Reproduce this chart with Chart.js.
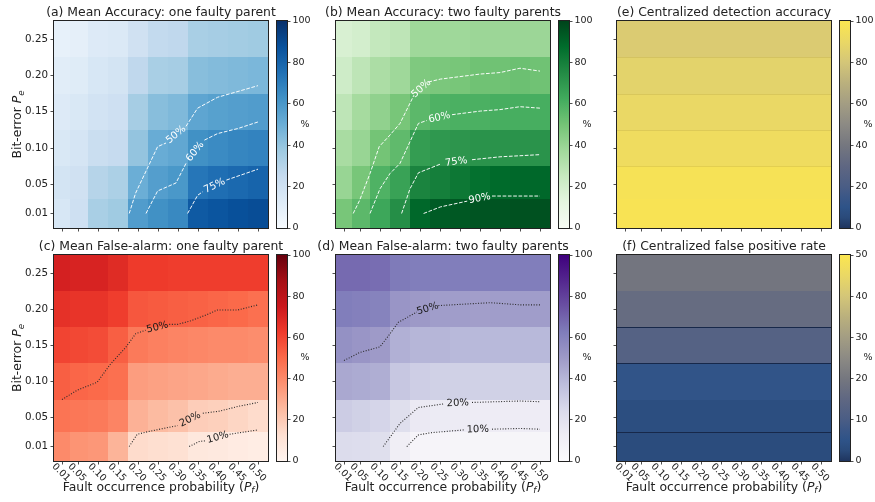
<!DOCTYPE html>
<html>
<head>
<meta charset="utf-8">
<title>Fault detection heatmaps</title>
<script src="https://cdn.jsdelivr.net/npm/chart.js@4.4.1/dist/chart.umd.min.js"></script>
<style>
  html, body { margin: 0; padding: 0; background: #fff; }
  #figure { position: relative; width: 875px; height: 502px; overflow: hidden; }
  #figure canvas { position: absolute; left: 0; top: 0; }
</style>
</head>
<body>
<div id="figure"></div>
<script>
// grid axes
const faultProb = [0.01, 0.05, 0.10, 0.15, 0.20, 0.25, 0.30, 0.35, 0.40, 0.45, 0.50];
const bitError = [0.01, 0.05, 0.10, 0.15, 0.20, 0.25];
const faultTicks = ['0.01', '0.05', '0.10', '0.15', '0.20', '0.25', '0.30', '0.35', '0.40', '0.45', '0.50'];
const bitTicks = ['0.01', '0.05', '0.10', '0.15', '0.20', '0.25'];
const pctTicks = [0, 20, 40, 60, 80, 100];
const fprTicks = [0, 10, 20, 30, 40, 50];

// values in %, one row per bit-error (0.01 first), one column per fault probability
const accOneParent = [
  [16, 21, 34, 37, 58, 63, 66, 84, 86, 88, 89],
  [18, 20, 30, 33, 50, 57, 60, 73, 76, 78, 80],
  [15, 17, 23, 25, 40, 51, 53, 63, 65, 67, 68],
  [13, 15, 19, 21, 35, 43, 45, 54, 56, 57, 58],
  [11, 12, 16, 18, 27, 34, 35, 43, 44, 45, 46],
  [8, 9, 13, 14, 20, 26, 27, 34, 35, 36, 37]
];
const accTwoParents = [
  [49, 56, 64, 74, 89, 93, 94, 95, 95, 96, 96],
  [40, 49, 59, 66, 78, 80, 83, 86, 88, 89, 89],
  [35, 40, 50, 55, 68, 70, 71, 72, 72, 72, 72],
  [28, 36, 42, 49, 56, 59, 60, 60, 61, 61, 61],
  [22, 28, 34, 38, 47, 48, 49, 51, 51, 52, 51],
  [18, 20, 26, 28, 38, 38, 38, 39, 39, 39, 39]
];
const centralAccuracy = [
  [98, 98, 98, 98, 98, 98, 98, 98, 98, 98, 98],
  [97, 97, 97, 97, 97, 97, 97, 97, 97, 97, 97],
  [93, 93, 93, 93, 93, 93, 93, 93, 93, 93, 93],
  [90, 90, 90, 90, 90, 90, 90, 90, 90, 90, 90],
  [87, 87, 87, 87, 87, 87, 87, 87, 87, 87, 87],
  [83, 83, 83, 83, 83, 83, 83, 83, 83, 83, 83]
];
const alarmOneParent = [
  [40, 37, 36, 27, 14, 13, 12, 8, 7, 6, 5],
  [47, 46, 45, 42, 28, 25, 23, 19, 18, 16, 14],
  [53, 51, 50, 48, 34, 33, 32, 31, 30, 29, 29],
  [60, 59, 58, 53, 45, 43, 42, 41, 40, 40, 39],
  [66, 65, 65, 62, 55, 54, 53, 52, 51, 50, 48],
  [72, 71, 71, 68, 63, 63, 62, 62, 62, 62, 62]
];
const alarmTwoParents = [
  [24, 23, 22, 12, 6, 6, 5.5, 5.5, 5.5, 5.5, 5.5],
  [31, 29, 27, 22, 15, 14, 13.5, 13, 13, 13, 13],
  [45, 44, 43, 33, 30, 29, 29, 29, 29, 29, 29],
  [54, 52, 50, 42, 40, 40, 39, 39, 39, 39, 39],
  [62, 61, 60, 52, 50.5, 49, 49, 48.5, 49, 49, 49],
  [68, 68, 67, 63, 62, 62, 62, 62, 62, 62, 62]
];
const centralFalsePos = [
  [3, 3, 3, 3, 3, 3, 3, 3, 3, 3, 3],
  [3.5, 3.5, 3.5, 3.5, 3.5, 3.5, 3.5, 3.5, 3.5, 3.5, 3.5],
  [5.5, 5.5, 5.5, 5.5, 5.5, 5.5, 5.5, 5.5, 5.5, 5.5, 5.5],
  [12.5, 12.5, 12.5, 12.5, 12.5, 12.5, 12.5, 12.5, 12.5, 12.5, 12.5],
  [16.5, 16.5, 16.5, 16.5, 16.5, 16.5, 16.5, 16.5, 16.5, 16.5, 16.5],
  [19.5, 19.5, 19.5, 19.5, 19.5, 19.5, 19.5, 19.5, 19.5, 19.5, 19.5]
];

// contour lines as [Pf, Pe]; the label sits on segment `gap`
const accOneContours = [
  { label: '50%', gap: 3, pts: [[0.178, 0.010], [0.194, 0.038], [0.249, 0.102], [0.270, 0.107], [0.320, 0.130], [0.349, 0.155], [0.399, 0.170], [0.450, 0.178], [0.500, 0.186]] },
  { label: '60%', gap: 3, pts: [[0.220, 0.010], [0.249, 0.041], [0.295, 0.052], [0.320, 0.079], [0.366, 0.111], [0.399, 0.120], [0.450, 0.127], [0.500, 0.136]] },
  { label: '75%', gap: 2, pts: [[0.324, 0.010], [0.349, 0.035], [0.362, 0.040], [0.421, 0.056], [0.500, 0.071]] }
];
const accTwoContours = [
  { label: '50%', gap: 6, pts: [[0.033, 0.010], [0.049, 0.028], [0.075, 0.065], [0.098, 0.102], [0.125, 0.118], [0.150, 0.134], [0.185, 0.173], [0.221, 0.191], [0.251, 0.195], [0.351, 0.202], [0.400, 0.204], [0.450, 0.210], [0.500, 0.206]] },
  { label: '60%', gap: 5, pts: [[0.075, 0.010], [0.100, 0.044], [0.125, 0.065], [0.150, 0.079], [0.196, 0.134], [0.217, 0.138], [0.280, 0.146], [0.351, 0.151], [0.400, 0.153], [0.450, 0.157], [0.500, 0.155]] },
  { label: '75%', gap: 3, pts: [[0.154, 0.010], [0.175, 0.044], [0.196, 0.066], [0.251, 0.078], [0.330, 0.084], [0.400, 0.088], [0.500, 0.091]] },
  { label: '90%', gap: 2, pts: [[0.209, 0.010], [0.251, 0.019], [0.318, 0.027], [0.380, 0.034], [0.500, 0.034]] }
];
const alarmOneContours = [
  { label: '50%', gap: 6, pts: [[0.010, 0.075], [0.048, 0.088], [0.098, 0.099], [0.131, 0.124], [0.169, 0.147], [0.194, 0.166], [0.219, 0.171], [0.278, 0.179], [0.299, 0.179], [0.332, 0.184], [0.370, 0.192], [0.399, 0.199], [0.450, 0.199], [0.500, 0.206]] },
  { label: '20%', gap: 3, pts: [[0.178, 0.010], [0.198, 0.027], [0.228, 0.031], [0.299, 0.039], [0.362, 0.056], [0.404, 0.059], [0.454, 0.066], [0.500, 0.071]] },
  { label: '10%', gap: 2, pts: [[0.328, 0.010], [0.353, 0.017], [0.370, 0.018], [0.429, 0.027], [0.500, 0.033]] }
];
const alarmTwoContours = [
  { label: '50%', gap: 5, pts: [[0.010, 0.129], [0.049, 0.140], [0.100, 0.148], [0.125, 0.166], [0.146, 0.182], [0.192, 0.196], [0.246, 0.205], [0.342, 0.208], [0.376, 0.209], [0.451, 0.206], [0.500, 0.206]] },
  { label: '20%', gap: 3, pts: [[0.108, 0.010], [0.150, 0.042], [0.196, 0.064], [0.259, 0.069], [0.330, 0.071], [0.451, 0.073], [0.500, 0.072]] },
  { label: '10%', gap: 3, pts: [[0.167, 0.010], [0.196, 0.026], [0.225, 0.029], [0.309, 0.033], [0.380, 0.034], [0.451, 0.035], [0.500, 0.034]] }
];

const xAxisTitle = [{ text: 'Fault occurrence probability (' }, { text: 'P', italic: true }, { text: 'f', italic: true, sub: true }, { text: ')' }];
const yAxisTitle = [{ text: 'Bit-error ' }, { text: 'P', italic: true }, { text: 'e', italic: true, sub: true }];

// colormaps
const even = list => list.map((c, i) => [i / (list.length - 1), c]);
const blues = even(['#f7fbff', '#deebf7', '#c6dbef', '#9ecae1', '#6baed6', '#4292c6', '#2171b5', '#08519c', '#08306b']);
const greens = even(['#f7fcf5', '#e5f5e0', '#c7e9c0', '#a1d99b', '#74c476', '#41ab5d', '#238b45', '#006d2c', '#00441b']);
const reds = even(['#fff5f0', '#fee0d2', '#fcbba1', '#fc9272', '#fb6a4a', '#ef3b2c', '#cb181d', '#a50f15', '#67000d']);
const purples = even(['#fcfbfd', '#efedf5', '#dadaeb', '#bcbddc', '#9e9ac8', '#807dba', '#6a51a3', '#54278f', '#3f007d']);
const cividis = [[0, '#1f355f'], [0.05, '#2a4a7a'], [0.1, '#2e5388'], [0.15, '#3b5787'], [0.2, '#4a5d85'], [0.3, '#5f6782'],
  [0.4, '#75777f'], [0.5, '#8c8a84'], [0.6, '#a39d83'], [0.7, '#bab07d'], [0.8, '#d4c678'], [0.9, '#ead865'], [1, '#fbe650']];

const W = 875, H = 502;
const FONT = '"DejaVu Sans", sans-serif';
const INK = '#222';
Chart.defaults.font.family = FONT;
Chart.defaults.color = INK;

const colLeft = [54, 336, 617];
const plotW = 214;
const rowTop = [21, 255];
const plotH = [207, 206];

function cellEdges(v) {
  const e = [v[0] - (v[1] - v[0]) / 2];
  for (let i = 1; i < v.length; i++) e.push((v[i - 1] + v[i]) / 2);
  e.push(v[v.length - 1] + (v[v.length - 1] - v[v.length - 2]) / 2);
  return e;
}
const xEdges = cellEdges(faultProb);
const yEdges = cellEdges(bitError);

function hexRgb(h) {
  return [1, 3, 5].map(k => parseInt(h.slice(k, k + 2), 16));
}
function cmapColor(stops, t) {
  t = Math.min(1, Math.max(0, t));
  for (let i = 1; i < stops.length; i++) {
    if (t <= stops[i][0]) {
      const f = (t - stops[i - 1][0]) / (stops[i][0] - stops[i - 1][0]);
      const a = hexRgb(stops[i - 1][1]), b = hexRgb(stops[i][1]);
      return 'rgb(' + a.map((v, k) => Math.round(v + f * (b[k] - v))).join(',') + ')';
    }
  }
  return stops[stops.length - 1][1];
}

const panels = [
  { title: '(a) Mean Accuracy: one faulty parent', values: accOneParent, cmap: blues, vmax: 100, cbTicks: pctTicks, contours: accOneContours, line: 'dashed', col: 0, row: 0 },
  { title: '(b) Mean Accuracy: two faulty parents', values: accTwoParents, cmap: greens, vmax: 100, cbTicks: pctTicks, contours: accTwoContours, line: 'dashed', col: 1, row: 0 },
  { title: '(e) Centralized detection accuracy', values: centralAccuracy, cmap: cividis, vmax: 100, cbTicks: pctTicks, contours: [], rowLines: [2, 3, 4, 5], rowLineColor: 'rgba(160,140,60,0.22)', col: 2, row: 0 },
  { title: '(c) Mean False-alarm: one faulty parent', values: alarmOneParent, cmap: reds, vmax: 100, cbTicks: pctTicks, contours: alarmOneContours, line: 'dotted', col: 0, row: 1 },
  { title: '(d) Mean False-alarm: two faulty parents', values: alarmTwoParents, cmap: purples, vmax: 100, cbTicks: pctTicks, contours: alarmTwoContours, line: 'dotted', col: 1, row: 1 },
  { title: '(f) Centralized false positive rate', values: centralFalsePos, cmap: cividis, vmax: 50, cbTicks: fprTicks, contours: [], rowLines: [1, 3, 4], rowLineColor: '#17284a', col: 2, row: 1 }
];

const lineStyles = {
  dashed: { color: 'rgba(255,255,255,0.95)', dash: [3.7, 1.6], width: 1, text: '#ffffff' },
  dotted: { color: '#2a2a2a', dash: [1, 1.65], width: 1.1, text: '#1a1a1a' }
};

function addCanvas() {
  const c = document.createElement('canvas');
  c.width = W; c.height = H;
  c.style.width = W + 'px'; c.style.height = H + 'px';
  document.getElementById('figure').appendChild(c);
  return c;
}

function drawRichText(ctx, parts, size) {
  const fonts = parts.map(pt => (pt.italic ? 'italic ' : '') + (pt.sub ? size * 0.7 : size) + 'px ' + FONT);
  const widths = parts.map((pt, i) => { ctx.font = fonts[i]; return ctx.measureText(pt.text).width; });
  let cx = -widths.reduce((a, b) => a + b, 0) / 2;
  ctx.textAlign = 'left';
  ctx.textBaseline = 'alphabetic';
  parts.forEach((pt, i) => {
    ctx.font = fonts[i];
    ctx.fillText(pt.text, cx, pt.sub ? size * 0.22 : 0);
    cx += widths[i];
  });
}

function contourDatasets(p) {
  const st = lineStyles[p.line];
  const out = [];
  p.contours.forEach(c => {
    [c.pts.slice(0, c.gap + 1), c.pts.slice(c.gap + 1)].forEach(part => out.push({
      data: part.map(([x, y]) => ({ x, y })),
      showLine: true,
      pointRadius: 0,
      borderColor: st.color,
      borderDash: st.dash,
      borderWidth: st.width,
      tension: 0
    }));
  });
  return out;
}

function panelPlugin(p) {
  return {
    id: 'panel',
    beforeDatasetsDraw(chart) {
      const { ctx, scales: { x, y } } = chart;
      ctx.save();
      p.values.forEach((row, j) => row.forEach((v, i) => {
        const l = Math.round(x.getPixelForValue(xEdges[i]));
        const r = Math.round(x.getPixelForValue(xEdges[i + 1]));
        const t = Math.round(y.getPixelForValue(yEdges[j + 1]));
        const b = Math.round(y.getPixelForValue(yEdges[j]));
        ctx.fillStyle = cmapColor(p.cmap, v / p.vmax);
        ctx.fillRect(l, t, r - l, b - t);
      }));
      (p.rowLines || []).forEach(k => {
        const py = Math.round(y.getPixelForValue(yEdges[k])) + 0.5;
        ctx.strokeStyle = p.rowLineColor;
        ctx.lineWidth = 1;
        ctx.beginPath();
        ctx.moveTo(chart.chartArea.left, py);
        ctx.lineTo(chart.chartArea.right, py);
        ctx.stroke();
      });
      ctx.restore();
    },
    afterDatasetsDraw(chart) {
      if (!p.contours.length) return;
      const { ctx, scales: { x, y } } = chart;
      ctx.save();
      ctx.font = '10px ' + FONT;
      ctx.fillStyle = lineStyles[p.line].text;
      ctx.textAlign = 'center';
      ctx.textBaseline = 'middle';
      p.contours.forEach(c => {
        const [x0, y0] = c.pts[c.gap], [x1, y1] = c.pts[c.gap + 1];
        const ax = x.getPixelForValue(x0), ay = y.getPixelForValue(y0);
        const bx = x.getPixelForValue(x1), by = y.getPixelForValue(y1);
        ctx.save();
        ctx.translate((ax + bx) / 2, (ay + by) / 2);
        ctx.rotate(Math.atan2(by - ay, bx - ax));
        ctx.fillText(c.label, 0, 0);
        ctx.restore();
      });
      ctx.restore();
    },
    afterDraw(chart) {
      const { ctx, chartArea: a, scales: { x } } = chart;
      ctx.save();
      ctx.strokeStyle = INK;
      ctx.lineWidth = 1;
      ctx.strokeRect(a.left - 0.5, a.top - 0.5, a.right - a.left + 1, a.bottom - a.top + 1);
      ctx.fillStyle = INK;
      ctx.font = '12.4px ' + FONT;
      ctx.textAlign = 'center';
      ctx.textBaseline = 'alphabetic';
      ctx.fillText(p.title, (a.left + a.right) / 2, a.top - 5.5);
      if (p.row === 1) {
        ctx.font = '9.5px ' + FONT;
        ctx.textBaseline = 'middle';
        faultProb.forEach((v, i) => {
          ctx.save();
          ctx.translate(x.getPixelForValue(v) - 1, a.bottom + 11.5);
          ctx.rotate(Math.PI / 4);
          ctx.fillText(faultTicks[i], 0, 0);
          ctx.restore();
        });
        ctx.save();
        ctx.translate((a.left + a.right) / 2, a.bottom + 29.5);
        drawRichText(ctx, xAxisTitle, 12.4);
        ctx.restore();
      }
      if (p.col === 0) {
        ctx.save();
        ctx.translate(21, (a.top + a.bottom) / 2);
        ctx.rotate(-Math.PI / 2);
        drawRichText(ctx, yAxisTitle, 12.4);
        ctx.restore();
      }
      ctx.restore();
    }
  };
}

function colorbarPlugin(p) {
  return {
    id: 'colorbar',
    beforeDraw(chart) {
      const { ctx, chartArea: a, scales: { y } } = chart;
      const g = ctx.createLinearGradient(0, y.getPixelForValue(0), 0, y.getPixelForValue(p.vmax));
      p.cmap.forEach(([t, c]) => g.addColorStop(t, c));
      ctx.save();
      ctx.fillStyle = g;
      ctx.fillRect(a.left, a.top, a.right - a.left, a.bottom - a.top);
      ctx.restore();
    },
    afterDraw(chart) {
      const { ctx, chartArea: a } = chart;
      ctx.save();
      ctx.strokeStyle = INK;
      ctx.lineWidth = 1;
      ctx.strokeRect(a.left - 0.5, a.top - 0.5, a.right - a.left + 1, a.bottom - a.top + 1);
      ctx.fillStyle = INK;
      ctx.font = '9.5px ' + FONT;
      ctx.textAlign = 'center';
      ctx.textBaseline = 'middle';
      ctx.fillText('%', a.right + 18, (a.top + a.bottom) / 2);
      ctx.restore();
    }
  };
}

const tickGrid = { drawOnChartArea: false, drawTicks: true, tickLength: 3.5, color: INK, lineWidth: 0.8 };
const quiet = { legend: { display: false }, tooltip: { enabled: false } };

function drawHeatPanel(p) {
  const left = colLeft[p.col], top = rowTop[p.row], h = plotH[p.row];
  const axisW = 44, axisH = 34;
  new Chart(addCanvas(), {
    type: 'scatter',
    data: { datasets: contourDatasets(p) },
    options: {
      responsive: false, animation: false, devicePixelRatio: 1, events: [],
      layout: { padding: { left: left - axisW, top: top, right: W - left - plotW, bottom: H - top - h - axisH } },
      plugins: quiet,
      scales: {
        x: {
          type: 'linear', min: xEdges[0], max: xEdges[xEdges.length - 1],
          afterBuildTicks: s => { s.ticks = faultProb.map(v => ({ value: v })); },
          afterFit: s => { s.height = axisH; },
          ticks: { display: false },
          grid: tickGrid,
          border: { display: false }
        },
        y: {
          type: 'linear', min: yEdges[0], max: yEdges[yEdges.length - 1],
          afterBuildTicks: s => { s.ticks = bitError.map(v => ({ value: v })); },
          afterFit: s => { s.width = axisW; },
          ticks: { display: p.col === 0, padding: 2.5, font: { size: 10.3 }, color: INK, callback: (v, i) => bitTicks[i] },
          grid: tickGrid,
          border: { display: false }
        }
      }
    },
    plugins: [panelPlugin(p)]
  });
}

function drawColorbar(p) {
  const left = colLeft[p.col] + plotW + 9, top = rowTop[p.row], h = plotH[p.row];
  const cbW = 10, axisW = 24;
  new Chart(addCanvas(), {
    type: 'scatter',
    data: { datasets: [] },
    options: {
      responsive: false, animation: false, devicePixelRatio: 1, events: [],
      layout: { padding: { left: left, top: top, right: W - left - cbW - axisW, bottom: H - top - h } },
      plugins: quiet,
      scales: {
        x: { display: false, min: 0, max: 1 },
        y: {
          position: 'right', min: 0, max: p.vmax,
          afterBuildTicks: s => { s.ticks = p.cbTicks.map(v => ({ value: v })); },
          afterFit: s => { s.width = axisW; },
          ticks: { padding: 2, font: { size: 9.5 }, color: INK },
          grid: tickGrid,
          border: { display: false }
        }
      }
    },
    plugins: [colorbarPlugin(p)]
  });
}

panels.forEach(p => {
  drawHeatPanel(p);
  drawColorbar(p);
});
</script>
</body>
</html>
